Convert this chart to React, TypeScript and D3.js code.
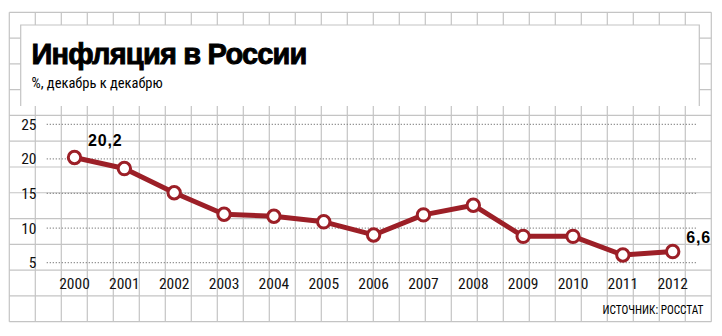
import React from "react";
import * as d3 from "d3";

const years = [2000, 2001, 2002, 2003, 2004, 2005, 2006, 2007, 2008, 2009, 2010, 2011, 2012];
const inflation = [20.2, 18.6, 15.1, 12.0, 11.7, 10.9, 9.0, 11.9, 13.3, 8.8, 8.8, 6.1, 6.6];
const yTicks = [5, 10, 15, 20, 25];
const labelled = [
  { year: 2000, text: "20,2" },
  { year: 2012, text: "6,6" },
];
const title = "Инфляция в России";
const subtitle = "%, декабрь к декабрю";
const source = "ИСТОЧНИК: РОССТАТ";

const W = 722;
const H = 336;
const RED = "#9c1f27";
const GRID = "#c4c4c4";
const COND = "'Liberation Sans Narrow', 'Roboto Condensed', 'DejaVu Sans Condensed', sans-serif";

export default function App() {
  const x = d3.scaleLinear().domain([2000, 2012]).range([74.5, 672.7]);
  const y = d3.scaleLinear().domain([0, 25]).range([297.2, 124.3]);

  const gx0 = 9.3, gy0 = 12.3, cw = 26, ch = 25.78, ncol = 27, nrow = 12;
  const gx1 = gx0 + cw * ncol;
  const gy1 = gy0 + ch * nrow;
  const vlines = d3.range(ncol + 1).map((i) => gx0 + cw * i);
  const hlines = d3.range(nrow + 1).map((j) => gy0 + ch * j);

  const line = d3
    .line<number>()
    .x((_, i) => x(years[i]))
    .y((d) => y(d));

  return (
    <svg width={W} height={H} style={{ position: "absolute", left: 0, top: 0, background: "#fff" }}>
      <rect x={0} y={0} width={W} height={H} fill="#fff" />
      {/* background grid */}
      <g stroke={GRID} strokeWidth={1.2}>
        {vlines.map((vx, i) => (
          <line key={"v" + i} x1={vx} x2={vx} y1={gy0} y2={gy1} />
        ))}
        {hlines.map((hy, j) => (
          <line key={"h" + j} x1={gx0} x2={gx1} y1={hy} y2={hy} />
        ))}
      </g>
      {/* title panel */}
      <rect x={20.7} y={25} width={678.6} height={81} fill="#fff" />
      <path d={`M20.7,106 V25 H699.3 V106`} fill="none" stroke={GRID} strokeWidth={1.2} />
      <text
        x={31.5}
        y={63.5}
        fontFamily="'Liberation Sans', Arial, sans-serif"
        fontWeight={900}
        fontSize={29}
        letterSpacing={-0.8}
        stroke="#000"
        strokeWidth={0.9}
        fill="#000"
      >
        {title}
      </text>
      <text x={31.5} y={87.5} fontFamily={COND} fontSize={14.5} fill="#000">
        {subtitle}
      </text>
      {/* dotted gridlines */}
      <g stroke="#8a8a8a" strokeWidth={1.3} strokeDasharray="1.2 1.8">
        {yTicks.map((t) => (
          <line key={t} x1={46.7} x2={697.7} y1={y(t)} y2={y(t)} />
        ))}
      </g>
      {/* y labels */}
      <g fontFamily={COND} fontSize={15.5} fill="#111" textAnchor="end">
        {yTicks.map((t) => (
          <text key={t} x={36.5} y={y(t) + 5.5}>
            {t}
          </text>
        ))}
      </g>
      {/* x labels */}
      <g fontFamily={COND} fontSize={15.5} fill="#111" textAnchor="middle">
        {years.map((yr) => (
          <text key={yr} x={x(yr)} y={289}>
            {yr}
          </text>
        ))}
      </g>
      {/* line */}
      <path d={line(inflation) || ""} fill="none" stroke={RED} strokeWidth={5} strokeLinejoin="round" />
      {inflation.map((v, i) => (
        <circle key={i} cx={x(years[i])} cy={y(v)} r={6.2} fill="#fff" stroke={RED} strokeWidth={3} />
      ))}
      {/* value labels */}
      {labelled.map((l) => {
        const i = years.indexOf(l.year);
        const isFirst = i === 0;
        return (
          <text
            key={l.year}
            x={x(l.year) + 13.5}
            y={isFirst ? y(inflation[i]) - 11 : y(inflation[i]) - 9}
            fontFamily="'Liberation Sans', Arial, sans-serif"
            fontWeight={700}
            fontSize={16}
            letterSpacing={0.8}
            fill="#000"
          >
            {l.text}
          </text>
        );
      })}
      <text
        x={703.5}
        y={314.3}
        fontFamily={COND}
        fontSize={13}
        fill="#000"
        textAnchor="end"
        textLength={101}
        lengthAdjust="spacingAndGlyphs"
      >
        {source}
      </text>
    </svg>
  );
}
